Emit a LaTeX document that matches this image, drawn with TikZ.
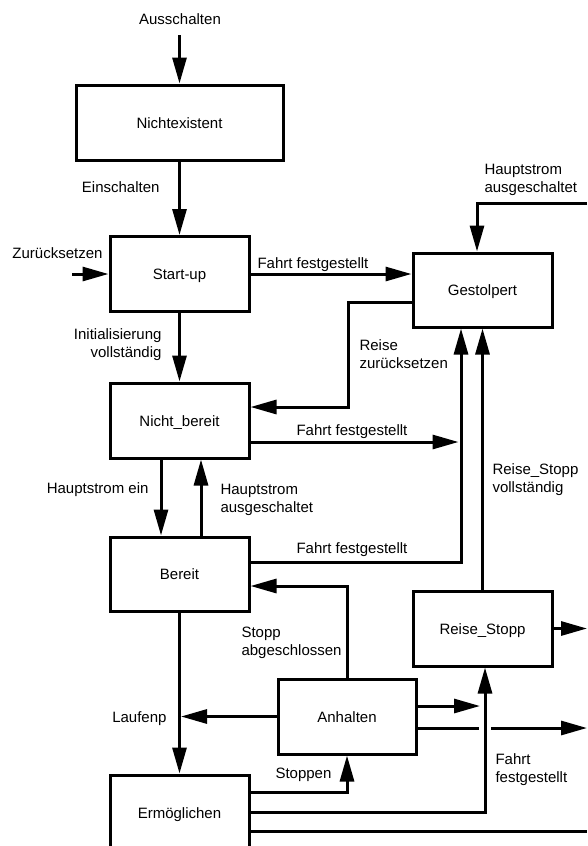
\documentclass[tikz,border=0pt]{standalone}
\usepackage{fontspec}
\setmainfont{Liberation Sans}
\usetikzlibrary{arrows.meta,calc}

\begin{document}
\begin{tikzpicture}[x=1pt,y=-1pt,line width=3pt]
        \tikzstyle{every node}=[font=\fontsize{15}{18}\selectfont]
        \tikzstyle{zustand}=[draw,rectangle,minimum width=139pt,minimum height=75pt,text height=11pt,text depth=0pt,inner sep=0pt]
        \tikzstyle{lbl}=[inner sep=0pt,align=left]
        \tikzstyle{pfeil}=[-{Triangle[length=26pt,width=14pt]}]
        \useasboundingbox (0,0) rectangle (587,846);
        % Zustaende
        \node[zustand,minimum width=207pt] (nichtex) at (179.5,122.5) {Nichtexistent};
        \node[zustand] (startup) at (179.5,274) {Start-up};
        \node[zustand,minimum height=74pt] (gestolpert) at (482.5,290) {Gestolpert};
        \node[zustand] (nichtbereit) at (179.5,420.5) {Nicht\_bereit};
        \node[zustand,minimum height=74pt] (bereit) at (179.5,574) {Bereit};
        \node[zustand,minimum width=138pt] (anhalten) at (347,716.5) {Anhalten};
        \node[zustand] (reisestopp) at (482.5,628.5) {Reise\_Stopp};
        \node[zustand] (ermoeg) at (179.5,812.5) {Ermöglichen};
        % freie Enden
        \coordinate (aus) at (179.5,35);
        \coordinate (zur) at (72,274);
        \coordinate (hsaus) at (587,203);
        \coordinate (rsout) at (587,628.5);
        \coordinate (anin) at (491,728);
        \coordinate (anout) at (587,728);
        \coordinate (erout) at (587,831);
        % Uebergaenge
        \draw[pfeil] (aus) -- (nichtex.north);
        \draw[pfeil] (nichtex.south) -- (startup.north);
        \draw[pfeil] (zur) -- (startup.west);
        \draw[pfeil] (startup.east) -- (startup.east -| gestolpert.west);
        \draw[pfeil] (hsaus) -| ([xshift=-5.5pt]gestolpert.north);
        \draw[pfeil] ([yshift=-12pt]gestolpert.west) -- ++(-63.5,0) |- ([yshift=13.5pt]nichtbereit.east);
        \draw[pfeil] (startup.south) -- (nichtbereit.north);
        \draw[pfeil] ([yshift=-21.5pt]nichtbereit.east) -- ++(208,0);
        \draw[pfeil] ([xshift=-18.5pt]nichtbereit.south) -- ([xshift=-18.5pt]bereit.north);
        \draw[pfeil] ([xshift=21.5pt]bereit.north) -- ([xshift=21.5pt]nichtbereit.south);
        \draw[pfeil] ([yshift=12pt]bereit.east) -| ([xshift=-21.5pt]gestolpert.south);
        \draw[pfeil] (reisestopp.north) -- (gestolpert.south);
        \draw[pfeil] (reisestopp.east) -- (rsout);
        \draw[pfeil] (bereit.south) -- (ermoeg.north);
        \draw[pfeil] (anhalten.north) |- ([yshift=-12pt]bereit.east);
        \draw[pfeil] (anhalten.west) -- ($(anhalten.west -| bereit.south)+(1.5,0)$);
        \draw[pfeil] ([yshift=10.5pt]anhalten.east) -- ++(62.5,0);
        \draw ([yshift=-11.5pt]anhalten.east) -- ++(61,0);
        \draw[pfeil] (anin) -- (anout);
        \draw[pfeil] ([yshift=20.5pt]ermoeg.east) -| (anhalten.south);
        \draw[pfeil] (ermoeg.east) -| ([xshift=2.5pt]reisestopp.south);
        \draw ([yshift=-18.5pt]ermoeg.east) -- (erout);
        % Beschriftungen
        \node[lbl,anchor=base] (lausschalten) at (180,24.5) {Ausschalten};
        \node[lbl,anchor=base east] (leinschalten) at (161,192) {Einschalten};
        \node[lbl,anchor=base east] (lzurueck) at (104,258) {Zurücksetzen};
        \node[lbl,anchor=base west] (lfahrta) at (256,268) {Fahrt festgestellt};
        \node[lbl,anchor=north west] (lhsausa) at (483,163) {Hauptstrom\\ausgeschaltet};
        \node[lbl,anchor=north west] (lreisezur) at (358,338) {Reise\\zurücksetzen};
        \node[lbl,anchor=north east,align=right] (linit) at (163,327) {Initialisierung\\vollständig};
        \node[lbl,anchor=base west] (lfahrtb) at (295,435) {Fahrt festgestellt};
        \node[lbl,anchor=base east] (lhsein) at (150,493) {Hauptstrom ein};
        \node[lbl,anchor=north west] (lhsausb) at (219,483) {Hauptstrom\\ausgeschaltet};
        \node[lbl,anchor=base west] (lfahrtc) at (295,553) {Fahrt festgestellt};
        \node[lbl,anchor=north west] (lrsvoll) at (491,462) {Reise\_Stopp\\vollständig};
        \node[lbl,anchor=north west] (lstoppab) at (240,626) {Stopp\\abgeschlossen};
        \node[lbl,anchor=base east] (llaufenp) at (168,722) {Laufenp};
        \node[lbl,anchor=base west] (lstoppen) at (274,778) {Stoppen};
        \node[lbl,anchor=north west] (lfahrtd) at (494,752) {Fahrt\\festgestellt};
    \end{tikzpicture}
\end{document}
